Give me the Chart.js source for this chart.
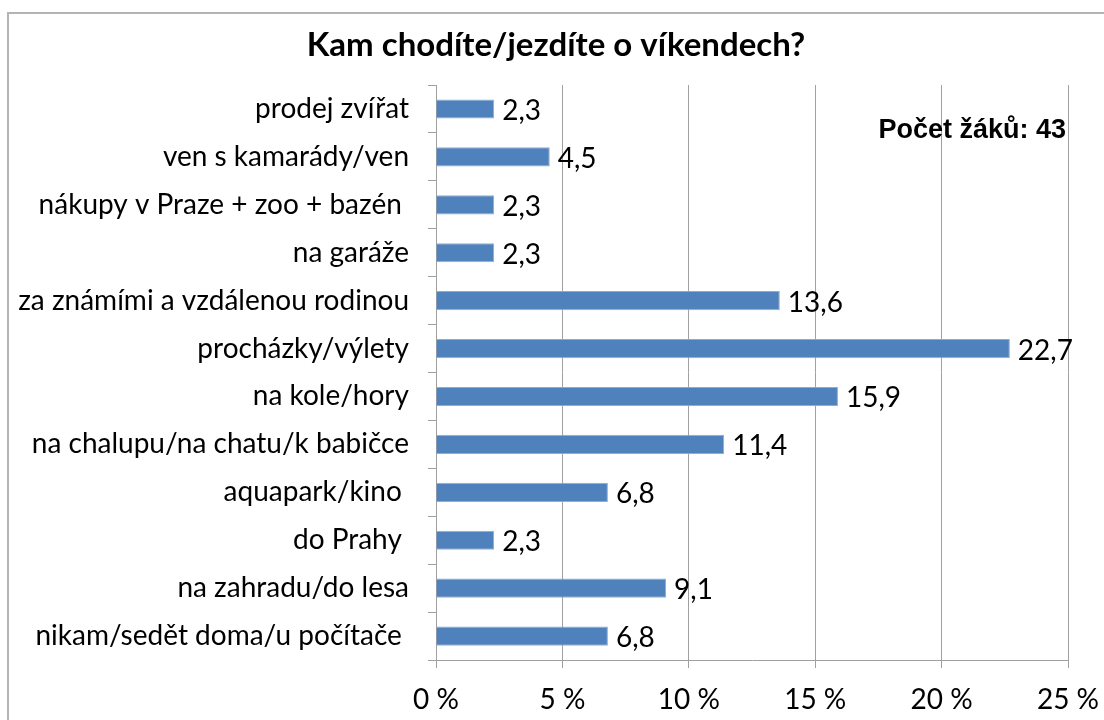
<!DOCTYPE html>
<html>
<head>
<meta charset="utf-8">
<script src="https://cdn.jsdelivr.net/npm/chart.js@4/dist/chart.umd.min.js"></script>
<style>
  html, body { margin: 0; padding: 0; background: #fff; }
  #wrap { position: relative; width: 1104px; height: 720px; overflow: hidden; }
  #frame { position: absolute; left: 7px; top: 12px; width: 1200px; height: 800px;
           border-left: 2px solid #b4b4b4; border-top: 2px solid #b4b4b4; }
  canvas { position: absolute; left: 0; top: 0; }
</style>
</head>
<body>
<div id="wrap">
  <div id="frame"></div>
  <canvas id="weekendChart" width="1104" height="720"></canvas>
</div>
<script>
const categories = [
    'prodej zvířat',
    'ven s kamarády/ven',
    'nákupy v Praze + zoo + bazén ',
    'na garáže',
    'za známími a vzdálenou rodinou',
    'procházky/výlety',
    'na kole/hory',
    'na chalupu/na chatu/k babičce',
    'aquapark/kino ',
    'do Prahy ',
    'na zahradu/do lesa',
    'nikam/sedět doma/u počítače '
];
const percentValues = [2.3, 4.5, 2.3, 2.3, 13.6, 22.7, 15.9, 11.4, 6.8, 2.3, 9.1, 6.8];
const axisTicks = [0, 5, 10, 15, 20, 25];
const chartTitle = 'Kam chodíte/jezdíte o víkendech?';
const noteText = 'Počet žáků: 43';

const labelFont = { family: 'Lato', size: 28 };
const gridColor = '#a0a0a0';

// title drawn by hand so it centres on the framed area, not the chart area
const titleText = {
    id: 'titleText',
    afterDraw(chart) {
        const ctx = chart.ctx;
        ctx.save();
        ctx.font = 'bold 33px Lato';
        ctx.fillStyle = '#000';
        ctx.textAlign = 'center';
        ctx.textBaseline = 'middle';
        ctx.fillText(chartTitle, (8 + chart.width) / 2, 45);
        ctx.restore();
    }
};

const valueLabels = {
    id: 'valueLabels',
    afterDatasetsDraw(chart) {
        const ctx = chart.ctx;
        const meta = chart.getDatasetMeta(0);
        ctx.save();
        ctx.font = '28px Lato';
        ctx.fillStyle = '#000';
        ctx.textAlign = 'left';
        ctx.textBaseline = 'middle';
        meta.data.forEach((bar, i) => {
            const txt = percentValues[i].toFixed(1).replace('.', ',');
            ctx.fillText(txt, bar.x + 8, bar.y + 2);
        });
        ctx.restore();
    }
};

const noteLabel = {
    id: 'noteLabel',
    afterDraw(chart) {
        const ctx = chart.ctx;
        const area = chart.chartArea;
        ctx.save();
        ctx.font = 'bold 27px "Liberation Sans"';
        ctx.fillStyle = '#000';
        ctx.textAlign = 'right';
        ctx.textBaseline = 'middle';
        ctx.fillText(noteText, area.right - 2, area.top + 46);
        ctx.restore();
    }
};

const ctx = document.getElementById('weekendChart').getContext('2d');
new Chart(ctx, {
    type: 'bar',
    data: {
        labels: categories,
        datasets: [{
            data: percentValues,
            backgroundColor: '#4f81bd',
            borderColor: '#8aaed8',
            borderWidth: 1,
            barPercentage: 0.4,
            categoryPercentage: 1
        }]
    },
    options: {
        indexAxis: 'y',
        responsive: false,
        animation: false,
        layout: { padding: { left: 8, right: 36, top: 85, bottom: 0 } },
        plugins: {
            legend: { display: false },
            tooltip: { enabled: false },
            title: { display: false }
        },
        scales: {
            x: {
                min: 0,
                max: 25,
                afterBuildTicks(scale) {
                    scale.ticks = axisTicks.map(v => ({ value: v }));
                },
                afterFit(scale) {
                    scale.height = 60;
                    scale.paddingLeft = 0;
                    scale.paddingRight = 0;
                },
                grid: { color: gridColor, tickLength: 8 },
                border: { color: gridColor },
                ticks: {
                    color: '#000',
                    font: labelFont,
                    padding: 15,
                    maxRotation: 0,
                    callback: v => v + ' %'
                }
            },
            y: {
                afterFit(scale) {
                    scale.width = 428;
                    scale.paddingTop = 0;
                    scale.paddingBottom = 0;
                },
                grid: { color: gridColor, drawOnChartArea: false, tickLength: 8 },
                border: { color: gridColor },
                ticks: { color: '#000', font: labelFont, padding: 19 }
            }
        }
    },
    plugins: [valueLabels, noteLabel, titleText]
});
</script>
</body>
</html>
